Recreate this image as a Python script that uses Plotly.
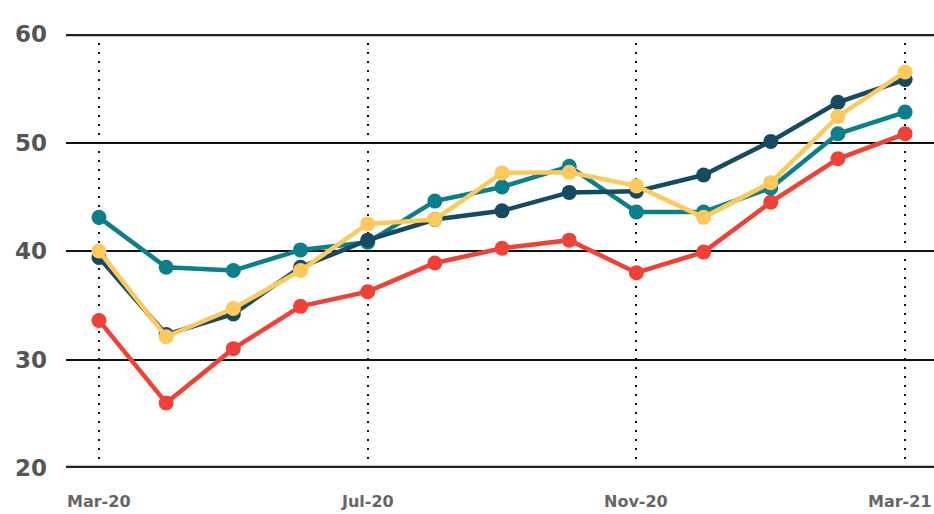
import plotly.graph_objects as go

months = ["Mar-20", "Apr-20", "May-20", "Jun-20", "Jul-20", "Aug-20", "Sep-20",
          "Oct-20", "Nov-20", "Dec-20", "Jan-21", "Feb-21", "Mar-21"]
red_vals = [33.6, 26.0, 31.0, 34.9, 36.25, 38.9, 40.25, 41.0, 38.0, 39.9, 44.5, 48.5, 50.8]
teal_vals = [43.1, 38.5, 38.2, 40.1, 40.8, 44.6, 45.9, 47.8, 43.6, 43.6, 45.8, 50.8, 52.8]
navy_vals = [39.4, 32.3, 34.2, 38.5, 41.0, 42.9, 43.7, 45.4, 45.5, 47.0, 50.1, 53.7, 55.8]
yellow_vals = [40.0, 32.1, 34.7, 38.2, 42.5, 42.9, 47.2, 47.25, 46.0, 43.1, 46.3, 52.4, 56.5]
tick_labels = ["Mar-20", "Jul-20", "Nov-20", "Mar-21"]
y_ticks = [20, 30, 40, 50, 60]

series = [
    ("Red", red_vals, "#ef4135"),
    ("Teal", teal_vals, "#0b7f8a"),
    ("Navy", navy_vals, "#164a62"),
    ("Yellow", yellow_vals, "#fdc95d"),
]

FONT = "DejaVu Sans, Arial, sans-serif"
x_idx = list(range(len(months)))
fig = go.Figure()
for name, vals, col in series:
    fig.add_trace(go.Scatter(
        x=x_idx, y=vals, name=name, mode="lines+markers",
        line=dict(color=col, width=4.5),
        marker=dict(color=col, size=15),
        hovertext=months,
    ))

tickpos = [months.index(t) for t in tick_labels]

fig.update_layout(
    width=934, height=514,
    margin=dict(l=66, r=0, t=34, b=46, autoexpand=False),
    plot_bgcolor="white", paper_bgcolor="white",
    showlegend=False,
    font=dict(family=FONT, color="#555555"),
    xaxis=dict(
        range=[-0.491, 12.43],
        tickvals=tickpos, showticklabels=False,
        showgrid=True, gridcolor="#111111", gridwidth=1.6, griddash="1.6px,7.4px",
        zeroline=False, showline=False, ticks="", automargin=False,
    ),
    yaxis=dict(
        range=[20, 60],
        tickvals=y_ticks, ticktext=[f"<b>{v}</b>" for v in y_ticks],
        showgrid=True, gridcolor="#111111", gridwidth=1.5,
        zeroline=False, showline=False, ticks="",
        tickfont=dict(size=23, color="#555555", family=FONT),
        ticklabelstandoff=18, automargin=False,
    ),
)
for i, (pos, lab) in enumerate(zip(tickpos, tick_labels)):
    last = i == len(tick_labels) - 1
    fig.add_annotation(
        x=1 if last else pos, xref="paper" if last else "x",
        y=-0.05, yref="paper", yanchor="top",
        xanchor="right" if last else "center",
        text=f"<b>{lab}</b>", showarrow=False,
        font=dict(size=16, color="#666666", family=FONT),
    )
for yv in (y_ticks[0], y_ticks[-1]):
    fig.add_shape(type="line", xref="paper", yref="y", x0=0, x1=1, y0=yv, y1=yv,
                  line=dict(color="#222222", width=4.5), layer="above")

fig.write_html(
    "out.html",
    config={"displayModeBar": False},
    post_script="document.body.style.margin='0';document.body.style.overflow='hidden';",
)
